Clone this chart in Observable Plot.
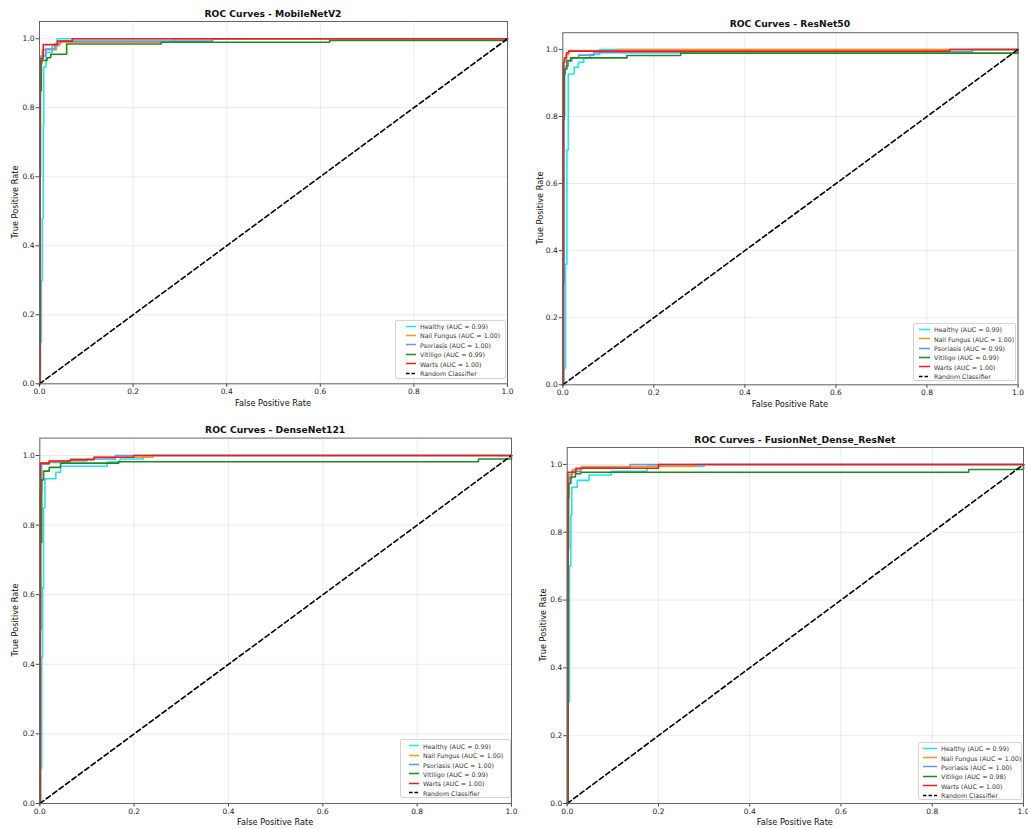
<!DOCTYPE html>
<html><head><meta charset="utf-8">
<script src="https://cdn.jsdelivr.net/npm/d3@7"></script>
<script src="https://cdn.jsdelivr.net/npm/@observablehq/plot@0.6"></script>
<style>
body{margin:0;background:#fff;overflow:hidden;}
#page{position:relative;width:1028px;height:829px;overflow:hidden;font-family:"DejaVu Sans",sans-serif;background:#fff;}
.lay{position:absolute;left:0;top:0;}
.t{position:absolute;transform:translate(-50%,-50%);white-space:nowrap;color:#111;}
.title{font-weight:bold;font-size:9.2px;}
.xl{font-size:8.2px;}
.yl{font-size:8.2px;transform:translate(-50%,-50%) rotate(-90deg);}
.leg{position:absolute;border:1px solid #d4d4d4;border-radius:2px;background:rgba(255,255,255,0.85);box-sizing:border-box;}
.leg .row{position:absolute;height:9px;display:flex;align-items:center;font-size:6.3px;color:#333;white-space:nowrap;transform:translateY(-50%);}
.leg .row span{color:#333;}
</style>
</head><body><div id="page"></div>
<script>
// ---------- data ----------
const classes = ["Healthy", "Nail Fungus", "Psoriasis", "Vitiligo", "Warts"];
const classColors = ["#1ee6ef", "#ff9418", "#6495ed", "#1f8a1f", "#ee1c1c"];
const tickValues = [0, 0.2, 0.4, 0.6, 0.8, 1.0];
const diagonal = [[0, 0], [1, 1]];
const modelNames = ["MobileNetV2", "ResNet50", "DenseNet121", "FusionNet_Dense_ResNet"];

const aucMobile = ["0.99", "1.00", "1.00", "0.99", "1.00"];
const aucResNet = ["0.99", "1.00", "0.99", "0.99", "1.00"];
const aucDense  = ["0.99", "1.00", "1.00", "0.99", "1.00"];
const aucFusion = ["0.99", "1.00", "1.00", "0.98", "1.00"];

// ROC points [FPR, TPR] (TPR reached at that FPR)
const mobileHealthy = [[0,0],[0.002,0.12],[0.004,0.30],[0.006,0.48],[0.008,0.75],[0.009,0.918],[0.014,0.961],[0.027,0.98],[0.038,1.0],[1,1]];
const mobileNail    = [[0,0],[0.001,0.85],[0.003,0.93],[0.006,0.968],[0.036,0.98],[0.042,0.99],[0.29,1.0],[1,1]];
const mobilePso     = [[0,0],[0.001,0.9],[0.003,0.95],[0.013,0.97],[0.033,0.985],[0.045,0.993],[0.37,1.0],[1,1]];
const mobileVit     = [[0,0],[0.001,0.6],[0.002,0.85],[0.004,0.937],[0.016,0.945],[0.024,0.955],[0.058,0.985],[0.26,0.99],[0.62,0.995],[1,1]];
const mobileWarts   = [[0,0],[0.001,0.942],[0.008,0.983],[0.038,0.993],[0.07,1.0],[1,1]];

const resHealthy = [[0,0],[0.002,0.05],[0.006,0.36],[0.009,0.70],[0.012,0.927],[0.025,0.947],[0.034,0.962],[0.046,0.975],[0.06,0.985],[0.081,1.0],[1,1]];
const resNail    = [[0,0],[0.001,0.93],[0.003,0.97],[0.008,0.985],[0.013,0.995],[0.12,1.0],[1,1]];
const resPso     = [[0,0],[0.002,0.3],[0.003,0.8],[0.004,0.95],[0.012,0.965],[0.02,0.975],[0.035,0.983],[0.068,0.99],[0.26,0.993],[0.9,1.0],[1,1]];
const resVit     = [[0,0],[0.001,0.79],[0.003,0.927],[0.005,0.942],[0.009,0.967],[0.017,0.975],[0.141,0.982],[0.259,0.989],[1,1]];
const resWarts   = [[0,0],[0.001,0.962],[0.004,0.975],[0.008,0.99],[0.013,0.995],[0.85,1.0],[1,1]];

const denseHealthy = [[0,0],[0.002,0.1],[0.004,0.42],[0.006,0.62],[0.008,0.85],[0.011,0.933],[0.034,0.952],[0.044,0.969],[0.143,0.981],[0.17,0.99],[0.22,1.0],[1,1]];
const denseNail    = [[0,0],[0.001,0.9],[0.004,0.978],[0.02,0.984],[0.065,0.99],[0.115,0.995],[0.24,1.0],[1,1]];
const densePso     = [[0,0],[0.001,0.9],[0.003,0.975],[0.02,0.98],[0.06,0.985],[0.1,0.99],[0.16,1.0],[1,1]];
const denseVit     = [[0,0],[0.001,0.5],[0.002,0.75],[0.004,0.93],[0.008,0.955],[0.02,0.966],[0.044,0.978],[0.167,0.982],[0.93,0.99],[1,1]];
const denseWarts   = [[0,0],[0.001,0.978],[0.02,0.984],[0.065,0.988],[0.115,0.995],[0.199,1.0],[1,1]];

const fusionHealthy = [[0,0],[0.001,0.3],[0.005,0.7],[0.008,0.85],[0.01,0.933],[0.022,0.953],[0.048,0.969],[0.097,0.98],[0.175,0.995],[0.3,1.0],[1,1]];
const fusionNail    = [[0,0],[0.001,0.9],[0.004,0.97],[0.012,0.985],[0.032,0.994],[0.28,1.0],[1,1]];
const fusionPso     = [[0,0],[0.001,0.9],[0.003,0.96],[0.01,0.98],[0.03,0.99],[0.138,1.0],[1,1]];
const fusionVit     = [[0,0],[0.002,0.75],[0.003,0.944],[0.008,0.963],[0.018,0.973],[0.03,0.977],[0.88,0.985],[1,1]];
const fusionWarts   = [[0,0],[0.001,0.977],[0.019,0.989],[0.2,1.0],[1,1]];

// ---------- layout ----------
const panels = [
  {name: modelNames[0], auc: aucMobile, curves: [mobileHealthy, mobileNail, mobilePso, mobileVit, mobileWarts],
   L: 39, R: 507, T: 21, B: 383.3, titleY: 13.3, xlY: 402.5, ylX: 15,
   leg: {left: 395, top: 320, w: 111, h: 59, sw: 10, sl: 10, tx: 24, r0: 6, step: 9.4}},
  {name: modelNames[1], auc: aucResNet, curves: [resHealthy, resNail, resPso, resVit, resWarts],
   L: 562.3, R: 1017.5, T: 32.2, B: 384.3, titleY: 23, xlY: 403.5, ylX: 540,
   leg: {left: 913, top: 323, w: 103, h: 58, sw: 5, sl: 11, tx: 20, r0: 6.3, step: 9.35}},
  {name: modelNames[2], auc: aucDense, curves: [denseHealthy, denseNail, densePso, denseVit, denseWarts],
   L: 39.3, R: 511, T: 437.6, B: 803, titleY: 429, xlY: 822, ylX: 15,
   leg: {left: 400, top: 739, w: 111, h: 59, sw: 8, sl: 10, tx: 22, r0: 6.7, step: 9.4}},
  {name: modelNames[3], auc: aucFusion, curves: [fusionHealthy, fusionNail, fusionPso, fusionVit, fusionWarts],
   L: 566.7, R: 1023, T: 447, B: 803, titleY: 439, xlY: 822, ylX: 543,
   leg: {left: 918, top: 742, w: 104, h: 58, sw: 4, sl: 14, tx: 22, r0: 6.3, step: 9.34}}
];

const page = document.getElementById("page");

function addText(cls, txt, x, y) {
  const d = document.createElement("div");
  d.className = "t " + cls;
  d.textContent = txt;
  d.style.left = x + "px";
  d.style.top = y + "px";
  page.appendChild(d);
}

for (const p of panels) {
  const data = classes.flatMap((c, i) => p.curves[i].map(([x, y]) => ({cls: c, x, y})));
  const svg = Plot.plot({
    width: 1028, height: 829,
    marginLeft: p.L, marginRight: 1028 - p.R, marginTop: p.T, marginBottom: 829 - p.B,
    x: {domain: [0, 1]},
    y: {domain: [0, 1.05]},
    color: {domain: classes, range: classColors},
    style: {background: "transparent", fontFamily: "DejaVu Sans, sans-serif", fontSize: "7.5px", color: "#222", overflow: "visible"},
    marks: [
      Plot.gridX({ticks: tickValues, stroke: "#000", strokeOpacity: 0.08}),
      Plot.gridY({ticks: tickValues, stroke: "#000", strokeOpacity: 0.08}),
      Plot.axisX({ticks: tickValues, tickFormat: d3.format(".1f"), tickSize: 3.5, tickPadding: 1.5, label: null, stroke: "#444"}),
      Plot.axisY({ticks: tickValues, tickFormat: d3.format(".1f"), tickSize: 3.5, tickPadding: 1.5, label: null, stroke: "#444"}),
      Plot.line(data, {x: "x", y: "y", z: "cls", stroke: "cls", curve: "step-after", strokeWidth: 1.6}),
      Plot.line(diagonal, {x: d => d[0], y: d => d[1], stroke: "#000", strokeWidth: 1.6, strokeDasharray: "5,3"}),
      Plot.frame({stroke: "#666"})
    ]
  });
  svg.classList.add("lay");
  svg.style.position = "absolute";
  page.appendChild(svg);

  const cx = (p.L + p.R) / 2;
  const cy = (p.T + p.B) / 2;
  addText("title", "ROC Curves - " + p.name, cx, p.titleY);
  addText("xl", "False Positive Rate", cx, p.xlY);
  addText("yl", "True Positive Rate", p.ylX, cy);

  // legend
  const lg = document.createElement("div");
  lg.className = "leg";
  Object.assign(lg.style, {left: p.leg.left + "px", top: p.leg.top + "px", width: p.leg.w + "px", height: p.leg.h + "px"});
  const entries = classes.map((c, i) => ({label: `${c} (AUC = ${p.auc[i]})`, color: classColors[i], dash: null}))
    .concat([{label: "Random Classifier", color: "#000", dash: "3.5,2"}]);
  entries.forEach((e, i) => {
    const row = document.createElement("div");
    row.className = "row";
    row.style.left = p.leg.sw + "px";
    row.style.top = (p.leg.r0 + i * p.leg.step - 1) + "px";
    const sv = d3.create("svg").attr("width", p.leg.tx - p.leg.sw).attr("height", 4).style("display", "block");
    sv.append("line").attr("x1", 0).attr("x2", p.leg.sl).attr("y1", 2).attr("y2", 2)
      .attr("stroke", e.color).attr("stroke-width", 1.6).attr("stroke-dasharray", e.dash);
    row.appendChild(sv.node());
    const sp = document.createElement("span");
    sp.textContent = e.label;
    row.appendChild(sp);
    lg.appendChild(row);
  });
  page.appendChild(lg);
}
</script>
</body></html>
